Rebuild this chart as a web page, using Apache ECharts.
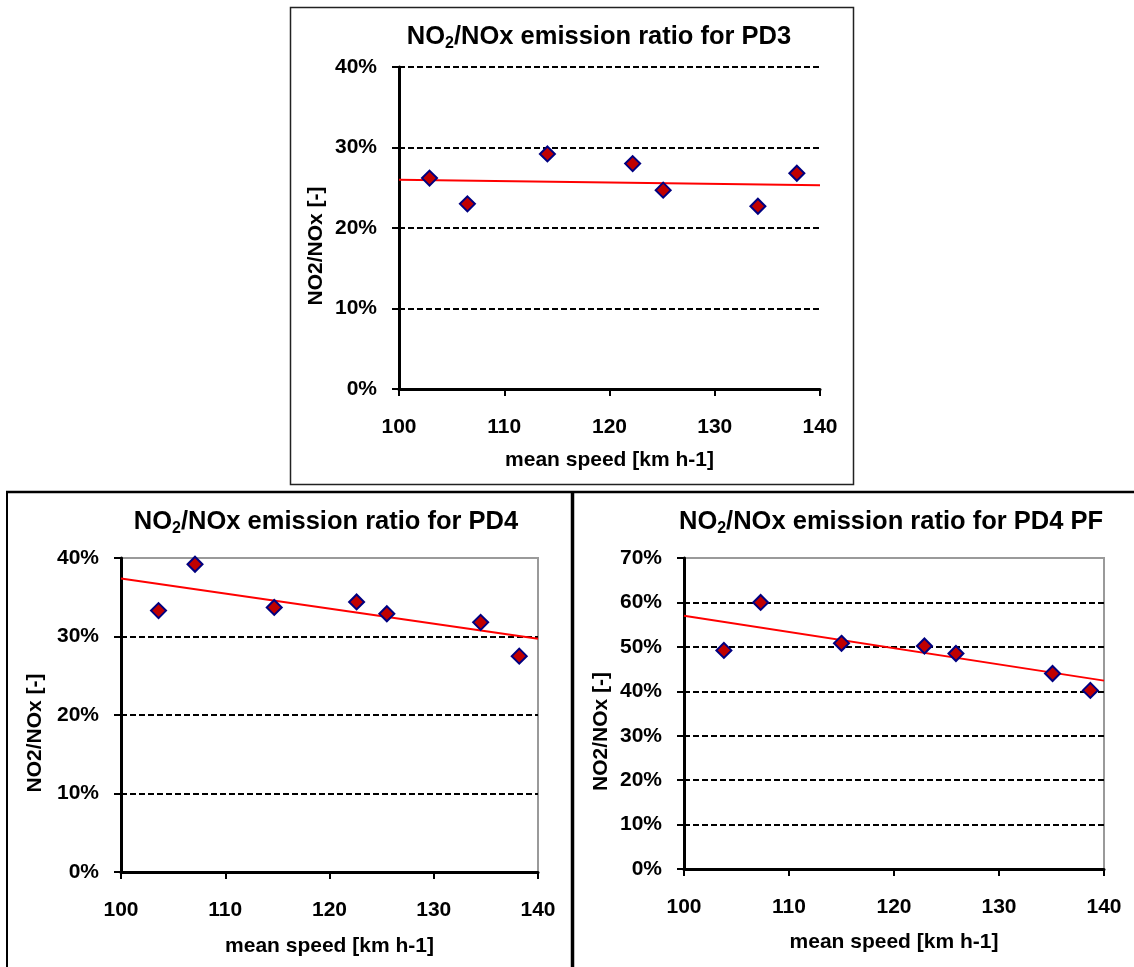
<!DOCTYPE html>
<html>
<head>
<meta charset="utf-8">
<script src="https://cdn.jsdelivr.net/npm/echarts@6/dist/echarts.min.js"></script>
<style>
html,body{margin:0;padding:0;background:#fff;}
#chart{width:1134px;height:967px;}
</style>
</head>
<body>
<div id="chart"></div>
<script>
// ---- data ----
const xTicks = [100, 110, 120, 130, 140];
const panelNames = ['PD3', 'PD4', 'PD4 PF'];
const yMaxes = [40, 40, 70];

const speedPD3 = [102.9, 106.5, 114.1, 122.2, 125.1, 134.1, 137.8];
const ratioPD3 = [26.2, 23.0, 29.2, 28.0, 24.7, 22.7, 26.8];
const trendPD3 = [[100, 26.0], [140, 25.3]];

const speedPD4 = [103.6, 107.1, 114.7, 122.6, 125.5, 134.5, 138.2];
const ratioPD4 = [33.3, 39.2, 33.7, 34.4, 32.9, 31.8, 27.5];
const trendPD4 = [[100, 37.4], [140, 29.7]];

const speedPD4PF = [103.8, 107.3, 115.0, 122.9, 125.9, 135.1, 138.7];
const ratioPD4PF = [49.2, 60.0, 50.8, 50.2, 48.5, 44.0, 40.2];
const trendPD4PF = [[100, 57.0], [140, 42.4]];

const xTitle = 'mean speed [km h-1]';
const yTitle = 'NO2/NOx [-]';

// ---- chart ----
const FONT = '"Liberation Sans", Arial, sans-serif';
const chart = echarts.init(document.getElementById('chart'), null, {renderer: 'canvas'});

const grids = [
  {left: 399, right: 1134 - 820, top: 67, bottom: 967 - 389},
  {left: 121, right: 1134 - 538, top: 558, bottom: 967 - 872},
  {left: 684, right: 1134 - 1104, top: 558, bottom: 967 - 869}
];
const gridBorder = [false, true, true];
const xNameGaps = [61, 64, 63];
const yNameGaps = [72, 75, 72];

const pairs = (xs, ys) => xs.map((x, i) => [x, ys[i]]);
const scatterData = [pairs(speedPD3, ratioPD3), pairs(speedPD4, ratioPD4), pairs(speedPD4PF, ratioPD4PF)];
const trendData = [trendPD3, trendPD4, trendPD4PF];

const xAxes = [], yAxes = [], series = [];
grids.forEach((g, i) => {
  g.show = gridBorder[i];
  g.borderColor = '#9a9a9a';
  g.borderWidth = 2;
  g.containLabel = false;
  xAxes.push({
    type: 'value', gridIndex: i, min: xTicks[0], max: xTicks[xTicks.length - 1], interval: 10,
    name: xTitle, nameLocation: 'middle', nameGap: xNameGaps[i],
    nameTextStyle: {fontFamily: FONT, fontWeight: 'bold', fontSize: 21, color: '#000'},
    axisLine: {show: true, onZero: false, lineStyle: {color: '#000', width: 3}},
    axisTick: {show: true, length: 7, lineStyle: {color: '#000', width: 2}},
    axisLabel: {fontFamily: FONT, fontWeight: 'bold', fontSize: 21, color: '#000', margin: 28},
    splitLine: {show: false}
  });
  const nLines = yMaxes[i] / 10 + 1;
  const lineColors = [];
  for (let k = 0; k < nLines; k++) lineColors.push((gridBorder[i] && k === nLines - 1) ? '#9a9a9a' : '#000');
  yAxes.push({
    type: 'value', gridIndex: i, min: 0, max: yMaxes[i], interval: 10,
    name: yTitle, nameLocation: 'middle', nameGap: yNameGaps[i], nameRotate: 90,
    nameTextStyle: {fontFamily: FONT, fontWeight: 'bold', fontSize: 21, color: '#000', padding: [0, 36, 0, 0]},
    axisLine: {show: true, onZero: false, lineStyle: {color: '#000', width: 3}},
    axisTick: {show: true, length: 7, lineStyle: {color: '#000', width: 2}},
    axisLabel: {fontFamily: FONT, fontWeight: 'bold', fontSize: 21, color: '#000', margin: 22, formatter: '{value}%'},
    splitLine: {show: true, lineStyle: {color: lineColors, width: 2, type: [6, 3]}}
  });
  series.push({
    type: 'line', xAxisIndex: i, yAxisIndex: i, data: trendData[i], showSymbol: false, symbol: 'none',
    lineStyle: {color: '#ff0000', width: 2}, z: 3, silent: true
  });
  series.push({
    type: 'scatter', xAxisIndex: i, yAxisIndex: i, data: scatterData[i], symbol: 'diamond', symbolSize: 15,
    itemStyle: {color: '#c00000', borderColor: '#000080', borderWidth: 2, opacity: 1}, z: 5
  });
});

const titleCenters = [[599, 37], [326, 522], [891, 522]];
const graphics = [
  {type: 'rect', shape: {x: 290.5, y: 7.5, width: 563, height: 477}, style: {fill: 'none', stroke: '#222', lineWidth: 1.5}, z: 0},
  {type: 'line', shape: {x1: 6, y1: 492, x2: 1134, y2: 492}, style: {stroke: '#000', lineWidth: 2.5}},
  {type: 'line', shape: {x1: 7, y1: 492, x2: 7, y2: 967}, style: {stroke: '#000', lineWidth: 2}},
  {type: 'line', shape: {x1: 572.5, y1: 492, x2: 572.5, y2: 967}, style: {stroke: '#000', lineWidth: 3.5}}
];
titleCenters.forEach((c, i) => {
  graphics.push({
    type: 'text', x: c[0], y: c[1],
    style: {
      text: '{a|NO}{s|2}{a|/NOx emission ratio for ' + panelNames[i] + '}',
      align: 'center', verticalAlign: 'middle',
      rich: {
        a: {fontFamily: FONT, fontWeight: 'bold', fontSize: 25.5, fill: '#000', lineHeight: 28},
        s: {fontFamily: FONT, fontWeight: 'bold', fontSize: 16, fill: '#000', padding: [14, 0, 0, 0], lineHeight: 28}
      }
    }
  });
});

chart.setOption({
  animation: false,
  backgroundColor: '#fff',
  grid: grids,
  xAxis: xAxes,
  yAxis: yAxes,
  series: series,
  graphic: graphics
});
</script>
</body>
</html>
